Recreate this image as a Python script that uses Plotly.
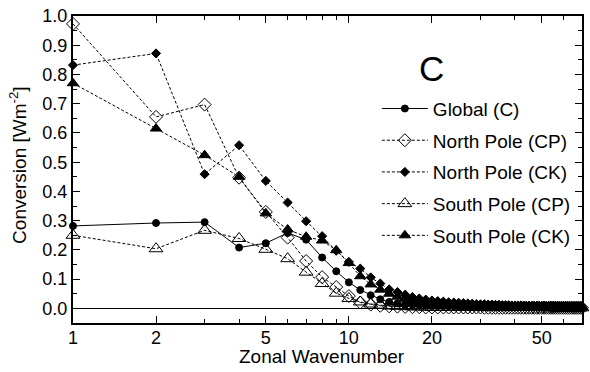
import plotly.graph_objects as go

wavenumber = list(range(1, 71))

global_c = [0.282, 0.292, 0.295, 0.208, 0.223, 0.258, 0.235, 0.174, 0.127, 0.089,
            0.063, 0.045, 0.031, 0.022, 0.017, 0.014, 0.013, 0.012, 0.011, 0.010,
            0.010, 0.009, 0.009, 0.009, 0.008, 0.008, 0.008, 0.008, 0.007, 0.007,
            0.007, 0.007, 0.007, 0.006, 0.006, 0.006, 0.006, 0.006, 0.006, 0.005,
            0.005, 0.005, 0.005, 0.005, 0.005, 0.005, 0.004, 0.004, 0.004, 0.004,
            0.004, 0.004, 0.004, 0.003, 0.003, 0.003, 0.003, 0.003, 0.003, 0.002,
            0.002, 0.002, 0.002, 0.002, 0.002, 0.001, 0.001, 0.001, 0.001, 0.000]

north_cp = [0.973, 0.655, 0.697, 0.447, 0.330, 0.242, 0.162, 0.107, 0.073, 0.042,
            0.020, 0.013, 0.009, 0.007, 0.006, 0.005, 0.004, 0.004, 0.003, 0.003,
            0.003, 0.003, 0.003, 0.003, 0.003, 0.003, 0.003, 0.003, 0.003, 0.003,
            0.002, 0.002, 0.002, 0.002, 0.002, 0.002, 0.002, 0.002, 0.002, 0.002,
            0.002, 0.002, 0.002, 0.002, 0.002, 0.002, 0.002, 0.002, 0.002, 0.002,
            0.002, 0.002, 0.002, 0.002, 0.002, 0.002, 0.002, 0.002, 0.002, 0.002,
            0.002, 0.002, 0.002, 0.002, 0.002, 0.002, 0.002, 0.002, 0.002, 0.002]

north_ck = [0.832, 0.872, 0.459, 0.558, 0.436, 0.362, 0.298, 0.247, 0.197, 0.159,
            0.136, 0.106, 0.085, 0.065, 0.056, 0.047, 0.039, 0.034, 0.030, 0.027,
            0.025, 0.023, 0.021, 0.020, 0.019, 0.018, 0.017, 0.016, 0.015, 0.014,
            0.014, 0.013, 0.013, 0.012, 0.012, 0.011, 0.011, 0.011, 0.010, 0.010,
            0.010, 0.010, 0.009, 0.009, 0.009, 0.009, 0.009, 0.008, 0.008, 0.008,
            0.008, 0.008, 0.008, 0.007, 0.007, 0.007, 0.007, 0.007, 0.007, 0.007,
            0.007, 0.006, 0.006, 0.006, 0.006, 0.006, 0.006, 0.006, 0.006, 0.006]

south_cp = [0.250, 0.204, 0.267, 0.239, 0.202, 0.170, 0.124, 0.085, 0.052, 0.034,
            0.022, 0.015, 0.011, 0.008, 0.007, 0.006, 0.005, 0.005, 0.004, 0.004,
            0.004, 0.004, 0.004, 0.004, 0.004, 0.004, 0.004, 0.004, 0.004, 0.004,
            0.004, 0.004, 0.004, 0.004, 0.004, 0.003, 0.003, 0.003, 0.003, 0.003,
            0.003, 0.003, 0.003, 0.003, 0.003, 0.003, 0.003, 0.003, 0.003, 0.003,
            0.003, 0.003, 0.003, 0.003, 0.003, 0.002, 0.002, 0.002, 0.002, 0.002,
            0.002, 0.002, 0.002, 0.002, 0.002, 0.002, 0.002, 0.002, 0.002, 0.002]

south_ck = [0.770, 0.615, 0.524, 0.450, 0.325, 0.270, 0.245, 0.232, 0.199, 0.155,
            0.110, 0.082, 0.064, 0.050, 0.040, 0.033, 0.028, 0.024, 0.021, 0.018,
            0.017, 0.016, 0.015, 0.014, 0.013, 0.012, 0.011, 0.011, 0.010, 0.010,
            0.009, 0.009, 0.009, 0.009, 0.009, 0.008, 0.008, 0.008, 0.008, 0.008,
            0.008, 0.008, 0.008, 0.007, 0.007, 0.007, 0.007, 0.007, 0.007, 0.007,
            0.007, 0.007, 0.007, 0.006, 0.006, 0.006, 0.006, 0.006, 0.006, 0.006,
            0.006, 0.006, 0.006, 0.005, 0.005, 0.005, 0.005, 0.005, 0.005, 0.005]

x_tickvals = [1, 2, 5, 10, 20, 50]
x_ticktext = ["1", "2", "5", "10", "20", "50"]
x_minorvals = [3, 4, 6, 7, 8, 9, 30, 40, 60, 70]

FONT = "Liberation Sans, Arial, sans-serif"
DASH = "3px,2px"

series = [
    # name, values, symbol, size, dash, rank
    ("North Pole (CP)", north_cp, "diamond-open", 10, DASH, 2),
    ("South Pole (CP)", south_cp, "triangle-up-open", 12, DASH, 4),
    ("North Pole (CK)", north_ck, "diamond", 7, DASH, 3),
    ("South Pole (CK)", south_ck, "triangle-up", 10, DASH, 5),
    ("Global (C)", global_c, "circle", 7, "solid", 1),
]

fig = go.Figure()
for name, vals, sym, size, dash, rank in series:
    fig.add_trace(go.Scatter(
        x=wavenumber, y=vals, name=name, mode="lines+markers",
        line=dict(color="black", width=1, dash=dash),
        marker=dict(symbol=sym, size=size, color="black",
                    line=dict(color="black", width=1)),
        legendrank=rank, legendgroup=name, cliponaxis=False,
    ))

fig.add_annotation(text="C", x=0.705, y=0.828, xref="paper", yref="paper",
                   showarrow=False, font=dict(size=35, color="black", family=FONT),
                   xanchor="center", yanchor="middle")

# axis titles as annotations for precise placement
fig.add_annotation(text="Zonal Wavenumber", x=0.489, y=0, xref="paper", yref="paper",
                   yshift=-33, showarrow=False, xanchor="center", yanchor="middle",
                   font=dict(size=19, color="black", family=FONT))
fig.add_annotation(text="Conversion [Wm<sup>-2</sup>]", x=0, y=0.515,
                   xref="paper", yref="paper", xshift=-55, showarrow=False,
                   textangle=-90, xanchor="center", yanchor="middle",
                   font=dict(size=19, color="black", family=FONT))

fig.update_layout(
    width=590, height=372,
    margin=dict(l=73, r=8, t=16, b=49),
    paper_bgcolor="white", plot_bgcolor="white",
    font=dict(family=FONT, color="black", size=18),
    showlegend=True,
    legend=dict(x=0.597, y=0.76, xanchor="left", yanchor="top",
                bgcolor="rgba(0,0,0,0)", font=dict(size=19, family=FONT),
                itemwidth=46, tracegroupgap=4, traceorder="grouped"),
    xaxis=dict(type="log", range=[0, 1.8451], automargin=False,
               tickmode="array", tickvals=x_tickvals, ticktext=x_ticktext,
               ticks="inside", ticklen=7, tickwidth=1, tickcolor="black",
               ticklabelstandoff=-3,
               showline=True, linewidth=2, linecolor="black", mirror="ticks",
               showgrid=False, zeroline=False,
               minor=dict(tickmode="array", tickvals=x_minorvals, ticks="inside",
                          ticklen=4, tickwidth=1, tickcolor="black", showgrid=False),
               tickfont=dict(size=18)),
    yaxis=dict(range=[-0.05, 1.0], dtick=0.1, tick0=0, tickformat=".1f",
               automargin=False,
               ticks="inside", ticklen=7, tickwidth=1, tickcolor="black",
               showline=True, linewidth=2, linecolor="black", mirror="ticks",
               showgrid=False, zeroline=True, zerolinecolor="black", zerolinewidth=1,
               minor=dict(dtick=0.05, tick0=0, ticks="inside", ticklen=4,
                          tickwidth=1, tickcolor="black", showgrid=False),
               tickfont=dict(size=18)),
)

fig.write_html("out.html", config={"displayModeBar": False},
               post_script="document.body.style.margin='0';document.body.style.padding='0';")
